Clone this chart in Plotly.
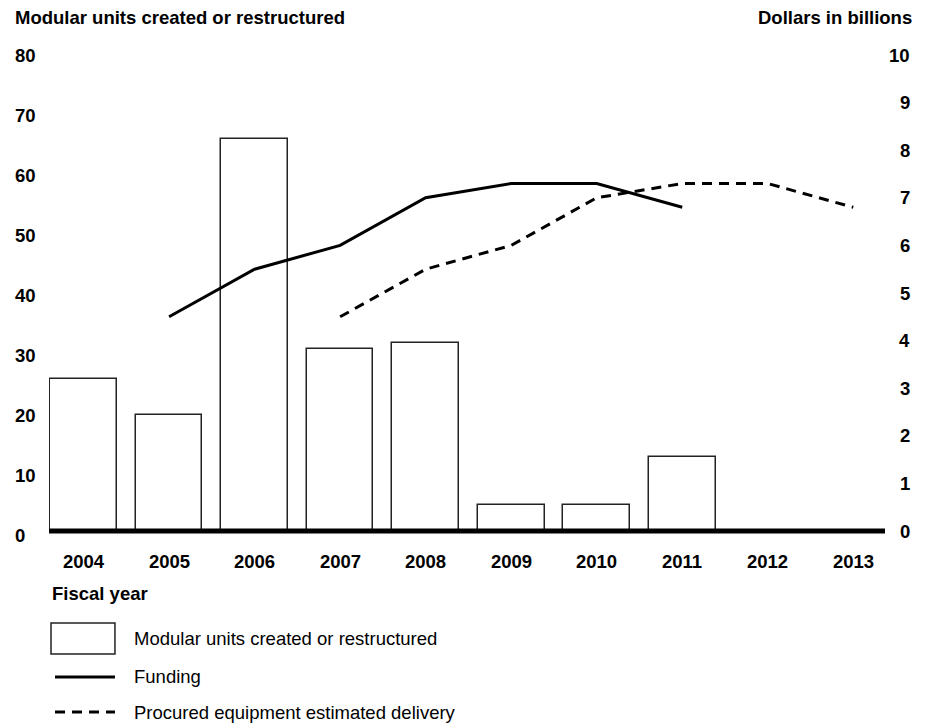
import plotly.graph_objects as go

years = [2004, 2005, 2006, 2007, 2008, 2009, 2010, 2011, 2012, 2013]
year_labels = [str(y) for y in years]
modular_units = [26, 20, 66, 31, 32, 5, 5, 13, 0, 0]

funding_years = [2005, 2006, 2007, 2008, 2009, 2010, 2011]
funding = [4.5, 5.5, 6.0, 7.0, 7.3, 7.3, 6.8]

delivery_years = [2007, 2008, 2009, 2010, 2011, 2012, 2013]
delivery = [4.5, 5.5, 6.0, 7.0, 7.3, 7.3, 6.8]

left_ticks = [0, 10, 20, 30, 40, 50, 60, 70, 80]
right_ticks = [0, 1, 2, 3, 4, 5, 6, 7, 8, 9, 10]

left_title = "Modular units created or restructured"
right_title = "Dollars in billions"
x_title = "Fiscal year"
legend_names = ["Modular units created or restructured", "Funding",
                "Procured equipment estimated delivery"]

FONT = "Liberation Sans, Arial, sans-serif"
DASH = "10px,7px"
Y_LO, Y_HI = 0.667, 80

fig = go.Figure()
fig.add_trace(go.Bar(x=years, y=modular_units, width=0.78,
                     marker=dict(color="white", line=dict(color="#222", width=1.5)),
                     showlegend=False))
fig.add_trace(go.Scatter(x=funding_years, y=funding, yaxis="y2", mode="lines",
                         line=dict(color="black", width=3), showlegend=False))
fig.add_trace(go.Scatter(x=delivery_years, y=delivery, yaxis="y2", mode="lines",
                         line=dict(color="black", width=3, dash=DASH), showlegend=False))

ann = []
bold = dict(family=FONT, size=18.5, color="black")
reg = dict(family=FONT, size=18.5, color="black")

for v in left_ticks:
    ann.append(dict(xref="paper", yref="paper", x=-0.0431,
                    y=(v - Y_LO) / (Y_HI - Y_LO), text="<b>%d</b>" % v,
                    xanchor="left", yanchor="middle", showarrow=False, font=bold))
for v in right_ticks:
    ann.append(dict(xref="paper", yref="y2", x=1.0323, y=v, text="<b>%d</b>" % v,
                    xanchor="right", yanchor="middle", showarrow=False, font=bold))
for yr, lab in zip(years, year_labels):
    ann.append(dict(xref="x", yref="paper", x=yr, y=-0.0651, text="<b>%s</b>" % lab,
                    xanchor="center", yanchor="middle", showarrow=False, font=bold))

ann.append(dict(xref="paper", yref="paper", x=-0.0434, y=1.0798, text="<b>%s</b>" % left_title,
                xanchor="left", yanchor="middle", showarrow=False, font=bold))
ann.append(dict(xref="paper", yref="paper", x=1.0347, y=1.0798, text="<b>%s</b>" % right_title,
                xanchor="right", yanchor="middle", showarrow=False, font=bold))
ann.append(dict(xref="paper", yref="paper", x=0.0012, y=-0.1303, text="<b>%s</b>" % x_title,
                xanchor="left", yanchor="middle", showarrow=False, font=bold))
for name, yy in zip(legend_names, [-0.2248, -0.3067, -0.3803]):
    ann.append(dict(xref="paper", yref="paper", x=0.099, y=yy, text=name,
                    xanchor="left", yanchor="middle", showarrow=False, font=reg))

shapes = [
    # thick baseline
    dict(type="line", xref="paper", yref="paper", x0=0, x1=1, y0=0, y1=0,
         line=dict(color="black", width=5), layer="above"),
    # legend box
    dict(type="rect", xref="paper", yref="paper", x0=0.0024, x1=0.0789,
         y0=-0.2584, y1=-0.1933, line=dict(color="#222", width=1.5), fillcolor="white"),
    dict(type="line", xref="paper", yref="paper", x0=0.0072, x1=0.0789,
         y0=-0.3067, y1=-0.3067, line=dict(color="black", width=3)),
    dict(type="line", xref="paper", yref="paper", x0=0.0072, x1=0.0789,
         y0=-0.3803, y1=-0.3803, line=dict(color="black", width=3, dash=DASH)),
]

fig.update_layout(
    width=922, height=718, autosize=False,
    margin=dict(l=41, r=45, t=47, b=195),
    paper_bgcolor="white", plot_bgcolor="white",
    font=dict(family=FONT, size=18, color="black"),
    xaxis=dict(range=[2003.596, 2013.371], showgrid=False, zeroline=False,
               showticklabels=False, ticks="", showline=False),
    yaxis=dict(range=[Y_LO, Y_HI], showgrid=False, zeroline=False,
               showticklabels=False, ticks="", showline=False),
    yaxis2=dict(range=[0, 10], overlaying="y", side="right", showgrid=False,
                zeroline=False, showticklabels=False, ticks="", showline=False),
    annotations=ann, shapes=shapes, showlegend=False, bargap=0,
)

fig.write_html("out.html")
